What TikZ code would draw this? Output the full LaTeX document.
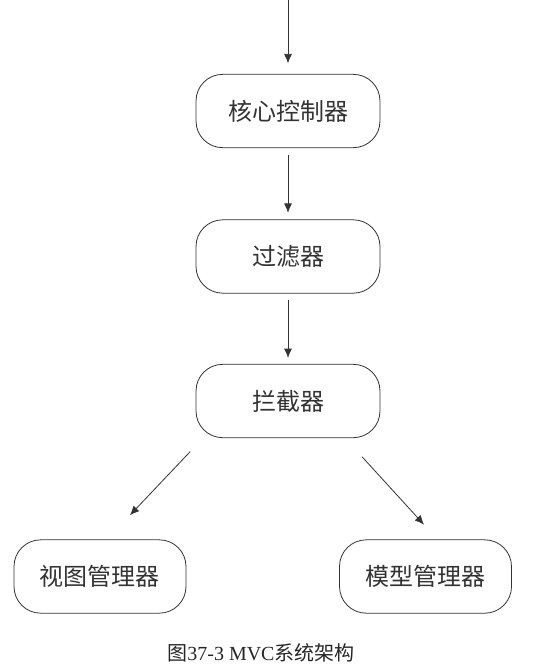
\documentclass[tikz,border=0pt]{standalone}
\usepackage{fontspec}
\setmainfont{Liberation Serif}
\newfontfamily\cjk{Noto Sans CJK SC}
\usetikzlibrary{arrows.meta, calc}

\begin{document}
\begin{tikzpicture}[
  x=0.75pt,
  y=-0.75pt,
  box/.style={draw=black!80, line width=0.6pt, rounded corners=20pt, minimum width=138pt, minimum height=55pt, text=black!80, font=\cjk\fontsize{18}{21}\selectfont},
  sidebox/.style={box, minimum width=129pt},
  arr/.style={line width=0.6pt, draw=black!80, -{Latex[length=7pt, width=6pt]}}
  ]
    \useasboundingbox (0,0) rectangle (558,668);

    % incoming request
    \coordinate (in) at (288,0);

    % main chain
    \node[box] (core) at (288,111) {核心控制器};
    \node[box] (filter) at (288,256.5) {过滤器};
    \node[box] (inter) at (288,401) {拦截器};

    % managers
    \node[sidebox] (view) at (100,576.5) {视图管理器};
    \node[sidebox] (model) at (425.5,576.5) {模型管理器};

    % arrows
    \draw[arr, shorten >=8pt] (in) -- (core.north);
    \draw[arr, shorten <=5pt, shorten >=5pt] (core) -- (filter);
    \draw[arr, shorten <=4.5pt, shorten >=4.5pt] (filter) -- (inter);
    \draw[arr, shorten <=14pt, shorten >=25pt] ([xshift=-63.75pt]inter.south) -- ([xshift=5.25pt]view.north);
    \draw[arr, shorten <=19pt, shorten >=15pt] ([xshift=42.75pt]inter.south) -- ([xshift=9pt]model.north);

    % caption
    \node[text=black!85, font=\fontsize{15}{18}\selectfont] (cap) at (261,653) {{\cjk 图}37-3 MVC{\cjk 系统架构}};

\end{tikzpicture}
\end{document}
